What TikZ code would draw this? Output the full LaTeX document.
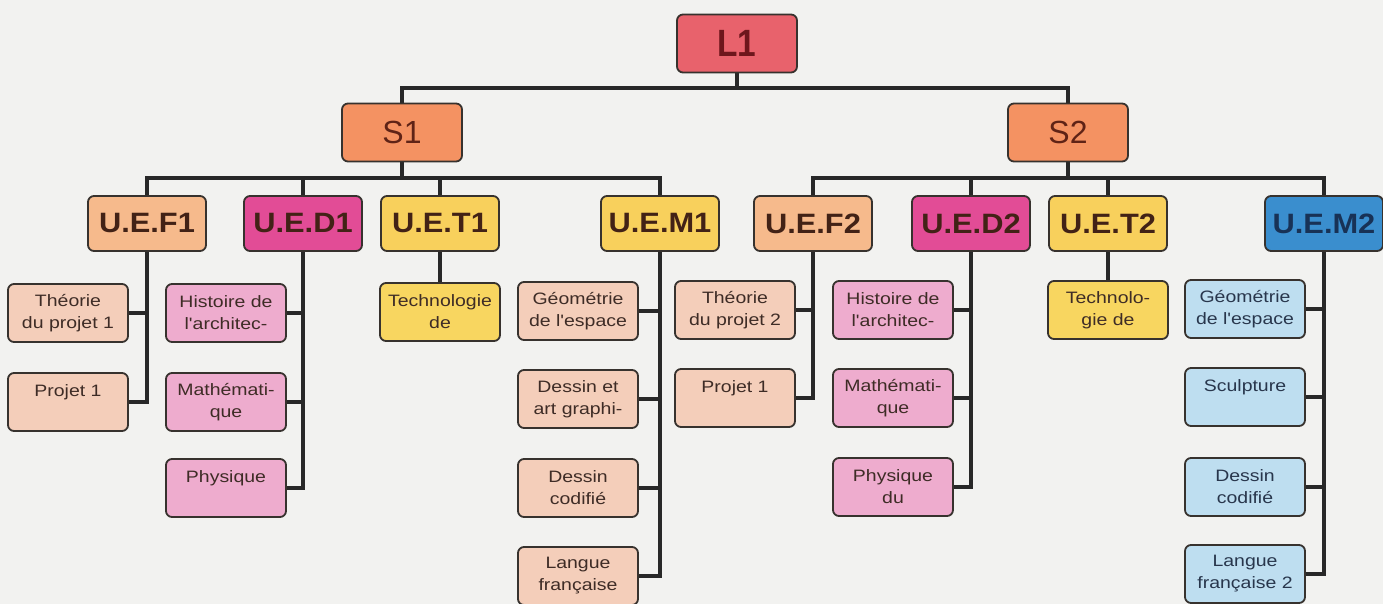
\documentclass[tikz,border=0pt]{standalone}
\usepackage{fontspec}
\setmainfont{Liberation Sans}
\newfontfamily\leaffont[FakeStretch=1.18]{Liberation Sans}
\newfontfamily\titlefont[FakeStretch=1.1]{Liberation Sans}
\newfontfamily\topfont[FakeStretch=0.88]{Liberation Sans}
\usetikzlibrary{backgrounds}
\definecolor{paper}{RGB}{242,242,240}
\definecolor{boxline}{RGB}{55,50,46}
\definecolor{linkc}{RGB}{40,40,40}
\definecolor{cL}{RGB}{232,98,108}
\definecolor{cS}{RGB}{244,146,98}
\definecolor{cF}{RGB}{246,186,140}
\definecolor{cD}{RGB}{226,76,150}
\definecolor{cT}{RGB}{248,208,92}
\definecolor{cMa}{RGB}{248,208,92}
\definecolor{cMb}{RGB}{58,142,206}
\definecolor{lPeach}{RGB}{244,206,186}
\definecolor{lPink}{RGB}{238,172,206}
\definecolor{lYel}{RGB}{248,214,96}
\definecolor{lBlue}{RGB}{190,222,240}
\definecolor{tL}{RGB}{110,22,28}
\definecolor{tS}{RGB}{95,35,22}
\definecolor{tTitle}{RGB}{66,34,22}
\definecolor{tBlue}{RGB}{24,50,86}
\definecolor{tLeaf}{RGB}{62,44,38}
\definecolor{tLeafB}{RGB}{40,54,76}
\tikzset{
  box/.style={draw=boxline, line width=1.8pt, rounded corners=6pt, inner sep=0pt, align=center},
  topbox/.style={box, minimum width=120pt, minimum height=58pt},
  title/.style={box, minimum width=118pt, minimum height=55pt, font=\titlefont\bfseries\fontsize{28}{30}\selectfont, text=tTitle},
  leaf/.style={box, minimum width=120pt, minimum height=58pt, font=\leaffont\fontsize{16.5}{22}\selectfont, text=tLeaf},
  link/.style={line width=4pt, draw=linkc, line cap=rect}
}
\begin{document}
\begin{tikzpicture}[x=1pt,y=-1pt]
\useasboundingbox (0,0) rectangle (1383,604);
% top levels
\node[topbox, fill=cL, text=tL, font=\topfont\bfseries\fontsize{38}{40}\selectfont] (L1) at (737,43.5) {L1};
\node[topbox, fill=cS, text=tS, font=\fontsize{32}{34}\selectfont] (S1) at (402,132.5) {S1};
\node[topbox, fill=cS, text=tS, font=\fontsize{32}{34}\selectfont] (S2) at (1068,132.5) {S2};
% level 3
\node[title, fill=cF] (F1) at (147,223.5) {U.E.F1};
\node[title, fill=cD] (D1) at (303,223.5) {U.E.D1};
\node[title, fill=cT] (T1) at (440,223.5) {U.E.T1};
\node[title, fill=cMa] (M1) at (660,223.5) {U.E.M1};
\node[title, fill=cF] (F2) at (813,223.5) {U.E.F2};
\node[title, fill=cD] (D2) at (971,223.5) {U.E.D2};
\node[title, fill=cT] (T2) at (1108,223.5) {U.E.T2};
\node[title, fill=cMb, text=tBlue] (M2) at (1324,223.5) {U.E.M2};
% leaves S1
\node[leaf, fill=lPeach] (F1a) at (68,313) {Théorie\\du projet 1};
\node[leaf, fill=lPeach] (F1b) at (68,402) {Projet 1\\\mbox{}};
\node[leaf, fill=lPink] (D1a) at (226,313) {Histoire de\\l'architec-};
\node[leaf, fill=lPink] (D1b) at (226,402) {Mathémati-\\que};
\node[leaf, fill=lPink] (D1c) at (226,488) {Physique\\\mbox{}};
\node[leaf, fill=lYel] (T1a) at (440,312) {Technologie\\de};
\node[leaf, fill=lPeach] (M1a) at (578,311) {Géométrie\\de l'espace};
\node[leaf, fill=lPeach] (M1b) at (578,399) {Dessin et\\art graphi-};
\node[leaf, fill=lPeach] (M1c) at (578,488) {Dessin\\codifié};
\node[leaf, fill=lPeach] (M1d) at (578,576) {Langue\\française};
% leaves S2
\node[leaf, fill=lPeach] (F2a) at (735,310) {Théorie\\du projet 2};
\node[leaf, fill=lPeach] (F2b) at (735,398) {Projet 1\\\mbox{}};
\node[leaf, fill=lPink] (D2a) at (893,310) {Histoire de\\l'architec-};
\node[leaf, fill=lPink] (D2b) at (893,398) {Mathémati-\\que};
\node[leaf, fill=lPink] (D2c) at (893,487) {Physique\\du};
\node[leaf, fill=lYel] (T2a) at (1108,310) {Technolo-\\gie de};
\node[leaf, fill=lBlue, text=tLeafB] (M2a) at (1245,309) {Géométrie\\de l'espace};
\node[leaf, fill=lBlue, text=tLeafB] (M2b) at (1245,397) {Sculpture\\\mbox{}};
\node[leaf, fill=lBlue, text=tLeafB] (M2c) at (1245,487) {Dessin\\codifié};
\node[leaf, fill=lBlue, text=tLeafB] (M2d) at (1245,574) {Langue\\française 2};
\begin{pgfonlayer}{background}
\fill[paper] (0,0) rectangle (1383,604);
\coordinate (jL) at (737,88);
\coordinate (j1) at (402,178);
\coordinate (j2) at (1068,178);
\draw[link] (L1.south) -- (jL);
\draw[link] (S1.north) |- (jL) -| (S2.north);
\draw[link] (S1.south) -- (j1);
\draw[link] (F1.north) |- (j1) -| (M1.north);
\draw[link] (D1.north) -- (D1.north |- j1);
\draw[link] (T1.north) -- (T1.north |- j1);
\draw[link] (S2.south) -- (j2);
\draw[link] (F2.north) |- (j2) -| (M2.north);
\draw[link] (D2.north) -- (D2.north |- j2);
\draw[link] (T2.north) -- (T2.north |- j2);
% leaf trunks
\draw[link] (F1.south) |- (F1b.east);
\draw[link] (F1a.east) -- (F1a.east -| F1.south);
\draw[link] (D1.south) |- (D1c.east);
\draw[link] (D1a.east) -- (D1a.east -| D1.south);
\draw[link] (D1b.east) -- (D1b.east -| D1.south);
\draw[link] (T1.south) -- (T1a.north);
\draw[link] (M1.south) |- (M1d.east);
\draw[link] (M1a.east) -- (M1a.east -| M1.south);
\draw[link] (M1b.east) -- (M1b.east -| M1.south);
\draw[link] (M1c.east) -- (M1c.east -| M1.south);
\draw[link] (F2.south) |- (F2b.east);
\draw[link] (F2a.east) -- (F2a.east -| F2.south);
\draw[link] (D2.south) |- (D2c.east);
\draw[link] (D2a.east) -- (D2a.east -| D2.south);
\draw[link] (D2b.east) -- (D2b.east -| D2.south);
\draw[link] (T2.south) -- (T2a.north);
\draw[link] (M2.south) |- (M2d.east);
\draw[link] (M2a.east) -- (M2a.east -| M2.south);
\draw[link] (M2b.east) -- (M2b.east -| M2.south);
\draw[link] (M2c.east) -- (M2c.east -| M2.south);
\end{pgfonlayer}
\end{tikzpicture}
\end{document}
